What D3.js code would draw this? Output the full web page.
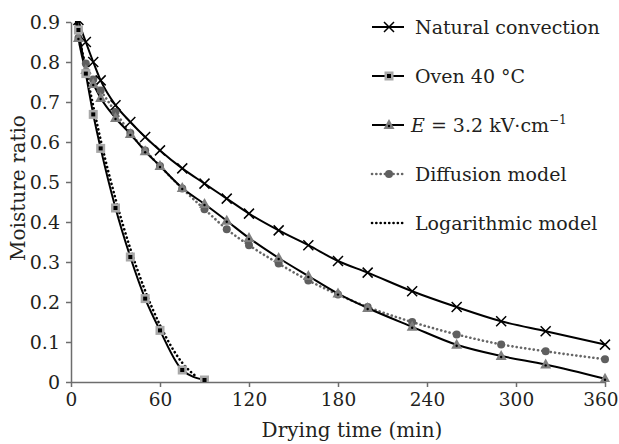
<!DOCTYPE html>
<html>
<head>
<meta charset="utf-8">
<script src="https://cdn.jsdelivr.net/npm/d3@7"></script>
<style>
body { margin: 0; background: #fff; }
text { font-family: "DejaVu Serif", serif; fill: #231f20; }
</style>
</head>
<body>
<div id="chart"></div>
<script>
// drying times (min) and moisture ratios
var naturalTime = [0, 5, 10, 15, 20, 30, 40, 50, 60, 75, 90, 105, 120, 140, 160, 180, 200, 230, 260, 290, 320, 360];
var naturalMR = [1.0, 0.905, 0.85, 0.80, 0.754, 0.692, 0.65, 0.6125, 0.579, 0.534, 0.496, 0.4585, 0.421, 0.379, 0.342, 0.3025, 0.2735, 0.227, 0.1875, 0.152, 0.127, 0.0935];

var ovenTime = [0, 5, 10, 15, 20, 30, 40, 50, 60, 75, 90];
var ovenMR = [1.0, 0.88, 0.771, 0.669, 0.584, 0.435, 0.3125, 0.2085, 0.129, 0.03, 0.005];

var fieldTime = [0, 5, 10, 15, 20, 30, 40, 50, 60, 75, 90, 105, 120, 140, 160, 180, 200, 230, 260, 290, 320, 360];
var fieldMR = [1.0, 0.86, 0.78, 0.745, 0.71, 0.66, 0.62, 0.577, 0.54, 0.485, 0.445, 0.403, 0.36, 0.31, 0.265, 0.221, 0.185, 0.138, 0.093, 0.065, 0.044, 0.008];

var diffusionTime = [0, 5, 10, 15, 20, 30, 40, 50, 60, 75, 90, 105, 120, 140, 160, 180, 200, 230, 260, 290, 320, 360];
var diffusionMR = [0.97, 0.86, 0.796, 0.756, 0.729, 0.675, 0.6225, 0.579, 0.54, 0.4835, 0.432, 0.382, 0.342, 0.296, 0.254, 0.2185, 0.1875, 0.15, 0.119, 0.094, 0.0767, 0.0568];

var logTime = [0, 5, 10, 15, 20, 30, 40, 50, 60, 75, 85];
var logMR = [0.98, 0.875, 0.78, 0.69, 0.605, 0.458, 0.333, 0.228, 0.142, 0.048, 0.012];

var xTicks = [0, 60, 120, 180, 240, 300, 360];
var yTicks = [0, 0.1, 0.2, 0.3, 0.4, 0.5, 0.6, 0.7, 0.8, 0.9];

var legendNames = ["Natural convection", "Oven 40 °C", "E", "Diffusion model", "Logarithmic model"];

var w = 619, h = 444;
var plot = {left: 71, right: 605, top: 22, bottom: 382};

var svg = d3.select("#chart").append("svg")
	.attr("width", w)
	.attr("height", h);

var x = d3.scaleLinear().domain([0, 360]).range([plot.left, plot.right]);
var y = d3.scaleLinear().domain([0, 0.9]).range([plot.bottom, plot.top]);

svg.append("defs").append("clipPath")
	.attr("id", "plotClip")
	.append("rect")
	.attr("x", plot.left)
	.attr("y", plot.top - 1)
	.attr("width", plot.right - plot.left + 8)
	.attr("height", plot.bottom - plot.top + 1);

function pairs(t, v){
	return t.map(function(d, i){ return [d, v[i]]; });
}

var line = d3.line()
	.x(function(d){ return x(d[0]); })
	.y(function(d){ return y(d[1]); })
	.curve(d3.curveMonotoneX);

//-------Axes
var axisColor = "#6d6d6d";

var xAxis = svg.append("g")
	.attr("transform", "translate(0," + plot.bottom + ")")
	.call(d3.axisBottom(x).tickValues(xTicks).tickSize(5).tickSizeOuter(0).tickPadding(6));
xAxis.selectAll("text").style("font-size", "18.5px");
//last label is pushed inward so it stays on the page
xAxis.selectAll(".tick text")
	.filter(function(d){ return d === 360; })
	.attr("text-anchor", "end")
	.attr("x", 13);

var yAxis = svg.append("g")
	.attr("transform", "translate(" + plot.left + ",0)")
	.call(d3.axisLeft(y).tickValues(yTicks).tickSize(5).tickSizeOuter(0).tickPadding(6)
		.tickFormat(function(d){ return d === 0 ? "0" : d3.format(".1f")(d); }));
yAxis.selectAll("text").style("font-size", "19px");

svg.selectAll(".domain, .tick line").attr("stroke", axisColor).attr("stroke-width", 1.5);
svg.selectAll(".tick text").attr("fill", "#231f20");

svg.append("text")
	.attr("x", 352)
	.attr("y", 437)
	.attr("text-anchor", "middle")
	.style("font-size", "20px")
	.text("Drying time (min)");

svg.append("text")
	.attr("transform", "translate(25,188) rotate(-90)")
	.attr("text-anchor", "middle")
	.style("font-size", "20px")
	.text("Moisture ratio");

//-------Markers
function drawCross(g, cx, cy){
	g.append("path")
		.attr("d", "M" + (cx - 5) + "," + (cy - 5) + "L" + (cx + 5) + "," + (cy + 5) +
			"M" + (cx - 5) + "," + (cy + 5) + "L" + (cx + 5) + "," + (cy - 5))
		.attr("stroke", "#000")
		.attr("stroke-width", 1.5);
}

function drawSquare(g, cx, cy){
	g.append("rect")
		.attr("x", cx - 4.5).attr("y", cy - 4.5)
		.attr("width", 9).attr("height", 9)
		.attr("fill", "#a8a8a8");
	g.append("rect")
		.attr("x", cx - 2).attr("y", cy - 2)
		.attr("width", 4).attr("height", 4)
		.attr("fill", "#000");
}

function drawTriangle(g, cx, cy){
	g.append("path")
		.attr("d", "M" + cx + "," + (cy - 6) + "L" + (cx + 5.5) + "," + (cy + 4) + "L" + (cx - 5.5) + "," + (cy + 4) + "Z")
		.attr("fill", "#7f7f7f");
	g.append("circle")
		.attr("cx", cx).attr("cy", cy + 1)
		.attr("r", 1.2)
		.attr("fill", "#000");
}

function drawDot(g, cx, cy){
	g.append("circle")
		.attr("cx", cx).attr("cy", cy)
		.attr("r", 4)
		.attr("fill", "#5f5f5f");
}

//-------Series
var series = [
	{data: pairs(diffusionTime, diffusionMR), stroke: "#666", dash: "0.1,4.2", width: 2.6, marker: drawDot},
	{data: pairs(logTime, logMR), stroke: "#000", dash: "0.1,4.2", width: 2.6, marker: null},
	{data: pairs(naturalTime, naturalMR), stroke: "#000", dash: null, width: 2, marker: drawCross},
	{data: pairs(fieldTime, fieldMR), stroke: "#000", dash: null, width: 2, marker: drawTriangle},
	{data: pairs(ovenTime, ovenMR), stroke: "#000", dash: null, width: 2, marker: drawSquare}
];

var plotArea = svg.append("g").attr("clip-path", "url(#plotClip)");

series.forEach(function(s){
	var p = plotArea.append("path")
		.datum(s.data)
		.attr("fill", "none")
		.attr("stroke", s.stroke)
		.attr("stroke-width", s.width)
		.attr("stroke-linecap", s.dash ? "round" : "butt")
		.attr("d", line);
	if(s.dash){
		p.attr("stroke-dasharray", s.dash);
	}
});

series.forEach(function(s){
	if(!s.marker) return;
	s.data.forEach(function(d){
		s.marker(plotArea, x(d[0]), y(d[1]));
	});
});

//-------Legend
var legendY = [27, 76, 125, 174, 223];
var legendStyle = [
	{stroke: "#000", dash: null, width: 2, marker: drawCross},
	{stroke: "#000", dash: null, width: 2, marker: drawSquare},
	{stroke: "#000", dash: null, width: 2, marker: drawTriangle},
	{stroke: "#666", dash: "0.1,4.2", width: 2.6, marker: drawDot},
	{stroke: "#000", dash: "0.1,4.2", width: 2.6, marker: null}
];

var legend = svg.append("g");
legendStyle.forEach(function(s, i){
	var ly = legendY[i];
	var l = legend.append("line")
		.attr("x1", 372).attr("x2", 404)
		.attr("y1", ly).attr("y2", ly)
		.attr("stroke", s.stroke)
		.attr("stroke-width", s.width)
		.attr("stroke-linecap", s.dash ? "round" : "butt");
	if(s.dash){
		l.attr("stroke-dasharray", s.dash);
	}
	if(s.marker){
		s.marker(legend, 389, ly);
	}

	var t = legend.append("text")
		.attr("x", i === 2 ? 411 : 415)
		.attr("y", ly + 7)
		.style("font-size", "19px");
	if(i === 2){
		t.append("tspan").style("font-style", "italic").text(legendNames[i]);
		t.append("tspan").text(" = 3.2 kV·cm");
		t.append("tspan").attr("dy", -8).style("font-size", "12px").text("−1");
	}else{
		t.text(legendNames[i]);
	}
});
</script>
</body>
</html>
